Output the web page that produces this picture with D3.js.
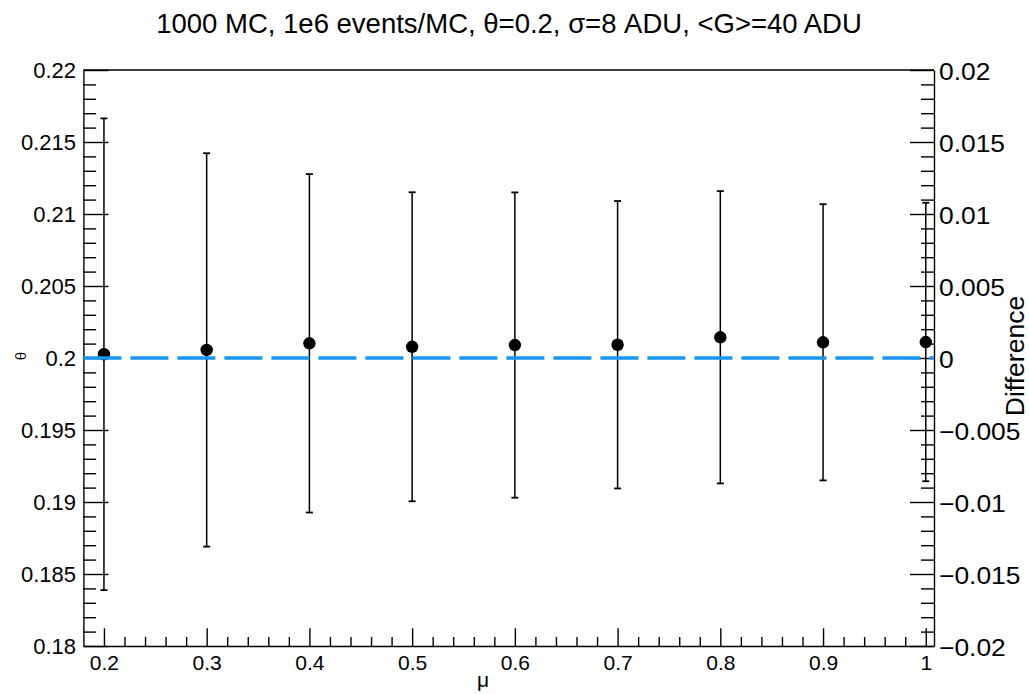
<!DOCTYPE html>
<html>
<head>
<meta charset="utf-8">
<script src="https://cdn.jsdelivr.net/npm/d3@7"></script>
<style>
  html, body { margin: 0; padding: 0; background: #fff; }
  svg { display: block; font-family: "Liberation Sans", Arial, Helvetica, sans-serif; }
</style>
</head>
<body>
<svg id="chart" width="1029" height="694"></svg>
<script>
// Fitted θ versus μ, with symmetric errors from the MC spread
const mu       = [0.2, 0.3, 0.4, 0.5, 0.6, 0.7, 0.8, 0.9, 1.0];
const thetaFit = [0.20026, 0.20056, 0.20102, 0.20078, 0.20090, 0.20092, 0.20144, 0.20109, 0.20111];
const thetaErr = [0.01638, 0.01366, 0.01175, 0.01073, 0.01060, 0.00998, 0.01015, 0.00959, 0.00967];
const thetaTrue = 0.2;

const xTicks     = [0.2, 0.3, 0.4, 0.5, 0.6, 0.7, 0.8, 0.9, 1.0];
const yTicks     = [0.18, 0.185, 0.19, 0.195, 0.2, 0.205, 0.21, 0.215, 0.22];
const diffTicks  = [-0.02, -0.015, -0.01, -0.005, 0, 0.005, 0.01, 0.015, 0.02];

const titleText = "1000 MC, 1e6 events/MC, θ=0.2, σ=8 ADU, <G>=40 ADU";

const svg = d3.select("#chart");
const frame = { left: 83.4, right: 934, top: 70, bottom: 646 };

const x = d3.scaleLinear().domain([0.18, 1.008]).range([frame.left, frame.right]);
const y = d3.scaleLinear().domain([0.18, 0.22]).range([frame.bottom, frame.top]);
const yDiff = d3.scaleLinear().domain([-0.02, 0.02]).range([frame.bottom, frame.top]);

const num = d => String(+Math.abs(d).toFixed(4));
const signed = d => (d < 0 ? "\u2212" : "") + num(d);

// Minor tick positions
const xMinor = d3.range(0, 42).map(i => +(0.18 + i * 0.02).toFixed(3))
  .filter(v => v > 0.18 && v <= 1.008 && !xTicks.some(t => Math.abs(t - v) < 1e-9));
const yMinor = d3.range(0, 41).map(i => +(0.18 + i * 0.001).toFixed(4))
  .filter(v => !yTicks.some(t => Math.abs(t - v) < 1e-9));
const dMinor = d3.range(0, 41).map(i => +(-0.02 + i * 0.001).toFixed(4))
  .filter(v => !diffTicks.some(t => Math.abs(t - v) < 1e-9));

function styleAxis(g, fontSize) {
  g.selectAll("path.domain").attr("stroke", "#000").attr("stroke-width", 1.4);
  g.selectAll(".tick line").attr("stroke", "#000").attr("stroke-width", 1.4);
  g.selectAll(".tick text").attr("fill", "#000").style("font-size", fontSize + "px")
    .style("font-family", '"Liberation Sans", Arial, Helvetica, sans-serif');
}

// Frame top edge
svg.append("line").attr("x1", frame.left).attr("x2", frame.right)
  .attr("y1", frame.top).attr("y2", frame.top)
  .attr("stroke", "#000").attr("stroke-width", 1.4);

// Bottom axis (μ)
const gx = svg.append("g").attr("transform", `translate(0,${frame.bottom})`)
  .call(d3.axisBottom(x).tickValues(xTicks).tickSizeInner(-17.7).tickSizeOuter(0)
    .tickPadding(9).tickFormat(d => String(+d.toFixed(1))));
styleAxis(gx, 21);
const gxm = svg.append("g").attr("transform", `translate(0,${frame.bottom})`)
  .call(d3.axisBottom(x).tickValues(xMinor).tickSizeInner(-9).tickSizeOuter(0).tickFormat(""));
gxm.select("path.domain").remove();
styleAxis(gxm, 21);

// Left axis (θ)
const gy = svg.append("g").attr("transform", `translate(${frame.left},0)`)
  .call(d3.axisLeft(y).tickValues(yTicks).tickSizeInner(-25).tickSizeOuter(0)
    .tickPadding(7.4).tickFormat(num));
styleAxis(gy, 22);
const gym = svg.append("g").attr("transform", `translate(${frame.left},0)`)
  .call(d3.axisLeft(y).tickValues(yMinor).tickSizeInner(-12.7).tickSizeOuter(0).tickFormat(""));
gym.select("path.domain").remove();
styleAxis(gym, 22);

// Right axis (Difference), labels slightly wide-set
const gd = svg.append("g").attr("transform", `translate(${frame.right},0)`)
  .call(d3.axisRight(yDiff).tickValues(diffTicks).tickSizeInner(-24).tickSizeOuter(0)
    .tickPadding(5).tickFormat(signed));
styleAxis(gd, 24);
gd.selectAll(".tick text").attr("x", 0).attr("dy", "0.38em")
  .attr("transform", "translate(5,0) scale(1.1,1)");
const gdm = svg.append("g").attr("transform", `translate(${frame.right},0)`)
  .call(d3.axisRight(yDiff).tickValues(dMinor).tickSizeInner(-13).tickSizeOuter(0).tickFormat(""));
gdm.select("path.domain").remove();
styleAxis(gdm, 24);

// Error bars and markers
const pts = mu.map((m, i) => ({ m, v: thetaFit[i], e: thetaErr[i] }));
const graph = svg.append("g");
graph.selectAll("line.err").data(pts).join("line").attr("class", "err")
  .attr("x1", d => x(d.m)).attr("x2", d => x(d.m))
  .attr("y1", d => y(d.v - d.e)).attr("y2", d => y(d.v + d.e))
  .attr("stroke", "#000").attr("stroke-width", 1.5);
const capW = 3.5;
["lo", "hi"].forEach(side => {
  graph.selectAll("line.cap-" + side).data(pts).join("line").attr("class", "cap-" + side)
    .attr("x1", d => x(d.m) - capW).attr("x2", d => x(d.m) + capW)
    .attr("y1", d => y(side === "lo" ? d.v - d.e : d.v + d.e))
    .attr("y2", d => y(side === "lo" ? d.v - d.e : d.v + d.e))
    .attr("stroke", "#000").attr("stroke-width", 1.8);
});
graph.selectAll("circle").data(pts).join("circle")
  .attr("cx", d => x(d.m)).attr("cy", d => y(d.v)).attr("r", 6.2).attr("fill", "#000");

// Reference line at the true θ
svg.append("line")
  .attr("x1", frame.left).attr("x2", frame.right)
  .attr("y1", y(thetaTrue)).attr("y2", y(thetaTrue))
  .attr("stroke", "#1797ee").attr("stroke-width", 3.4).attr("stroke-dasharray", "38,9");

// Titles
svg.append("text").attr("x", 509).attr("y", 33).attr("text-anchor", "middle")
  .style("font-size", "27.5px").attr("fill", "#000").text(titleText);
svg.append("text").attr("x", 483).attr("y", 687).attr("text-anchor", "middle")
  .style("font-size", "21px").attr("fill", "#000").text("μ");
svg.append("text").attr("transform", "translate(25.5,356) rotate(-90)").attr("text-anchor", "middle")
  .style("font-size", "15px").attr("fill", "#000").text("θ");
svg.append("text").attr("transform", "translate(1024,356) rotate(-90)").attr("text-anchor", "middle")
  .style("font-size", "26.5px").attr("fill", "#000").text("Difference");
</script>
</body>
</html>
